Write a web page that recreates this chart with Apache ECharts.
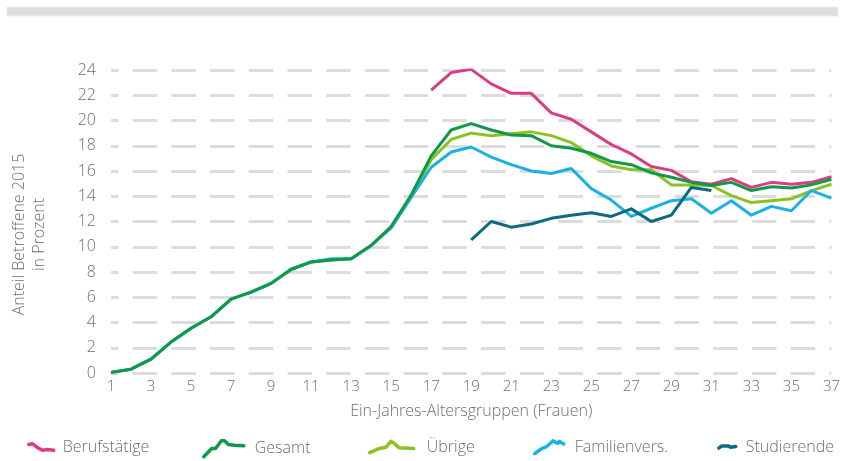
<!DOCTYPE html>
<html>
<head>
<meta charset="utf-8">
<script src="https://cdn.jsdelivr.net/npm/echarts@6/dist/echarts.min.js"></script>
<style>
  html, body { margin: 0; padding: 0; background: #fff; }
  #container { width: 843px; height: 461px; }
</style>
</head>
<body>
<div id="container"></div>
<script>
(function () {

    // age groups 1..37
    const ages = [];
    for (let i = 1; i <= 37; i++) ages.push(String(i));

    const berufstaetige = [null, null, null, null, null, null, null, null, null, null, null, null, null, null, null, null,
        22.4, 23.8, 24.05, 22.9, 22.15, 22.15, 20.6, 20.1, 19.1, 18.1, 17.35, 16.35, 16.05, 15.15, 14.95, 15.4, 14.7, 15.1, 14.95, 15.1, 15.55];
    const gesamt = [0.05, 0.3, 1.1, 2.45, 3.55, 4.45, 5.85, 6.4, 7.1, 8.2, 8.8, 8.95, 9.05, 10.1, 11.6, 14.1,
        17.2, 19.25, 19.75, 19.25, 18.85, 18.8, 18.0, 17.8, 17.4, 16.75, 16.5, 15.85, 15.5, 15.1, 14.85, 15.1, 14.45, 14.75, 14.65, 14.9, 15.35];
    const uebrige = [0.05, 0.3, 1.1, 2.45, 3.55, 4.45, 5.85, 6.4, 7.1, 8.2, 8.8, 8.95, 9.05, 10.1, 11.6, 14.0,
        16.9, 18.5, 19.0, 18.8, 18.95, 19.1, 18.8, 18.25, 17.2, 16.4, 16.1, 16.1, 14.9, 14.9, 14.85, 14.05, 13.5, 13.65, 13.8, 14.45, 14.95];
    const familienvers = [0.05, 0.3, 1.1, 2.45, 3.55, 4.45, 5.85, 6.4, 7.1, 8.25, 8.8, 9.05, 9.05, 10.1, 11.5, 13.9,
        16.3, 17.5, 17.9, 17.1, 16.5, 16.0, 15.8, 16.2, 14.6, 13.7, 12.4, 13.05, 13.65, 13.8, 12.65, 13.65, 12.5, 13.2, 12.85, 14.45, 13.85];
    const studierende = [null, null, null, null, null, null, null, null, null, null, null, null, null, null, null, null, null, null,
        10.55, 12.0, 11.55, 11.8, 12.25, 12.5, 12.7, 12.4, 13.0, 12.0, 12.5, 14.7, 14.45, null, null, null, null, null, null];

    const yTicks = { min: 0, max: 24, step: 2 };

    const colors = {
        'Berufstätige': '#da3d84',
        'Gesamt': '#10994a',
        'Übrige': '#8cc122',
        'Familienvers.': '#1bb2e2',
        'Studierende': '#0e6a80'
    };

    const font = '"Open Sans", "Noto Sans", sans-serif';
    const textGrey = '#6e6e6e';

    // little squiggles used as legend icons
    const icons = {
        'Berufstätige': { path: 'path://M0 2 L12 0 L27 12 L42 20 L57 18 L77 20', w: 25, h: 6, left: 27, top: 440 },
        'Gesamt': { path: 'path://M0 50 L25 24 L37 24 L55 0 L65 0 L77 12 L95 14 L125 16', w: 40, h: 16, left: 202, top: 441 },
        'Übrige': { path: 'path://M0 35 L30 22 L50 18 L65 0 L77 8 L90 20 L135 22', w: 44, h: 11, left: 368, top: 439 },
        'Familienvers.': { path: 'path://M0 40 L20 25 L37 18 L57 0 L70 8 L77 2 L90 10', w: 29, h: 13, left: 533, top: 441 },
        'Studierende': { path: 'path://M0 7 L10 0 L30 0 L38 4 L55 2', w: 17, h: 3, left: 717, top: 446 }
    };
    const textLeft = { 'Berufstätige': 61, 'Gesamt': 253, 'Übrige': 425, 'Familienvers.': 573, 'Studierende': 744 };

    const legends = Object.keys(icons).map(name => {
        const ic = icons[name];
        return {
            data: [name],
            left: ic.left,
            top: 439,
            icon: ic.path,
            itemWidth: ic.w,
            itemHeight: 18,
            padding: 0,
            itemStyle: { color: 'transparent', borderColor: colors[name], borderWidth: 3.5, borderCap: 'round', borderJoin: 'round' },
            textStyle: {
                color: textGrey, fontSize: 16, fontFamily: font, fontWeight: 300,
                padding: [0, 0, 0, textLeft[name] - ic.left - ic.w - 5]
            },
            selectedMode: false
        };
    });

    const makeSeries = (name, data, z) => ({
        name: name,
        type: 'line',
        data: data,
        showSymbol: false,
        symbol: 'none',
        connectNulls: false,
        z: z,
        lineStyle: { color: colors[name], width: 3, join: 'round' },
        itemStyle: { color: colors[name] },
        emphasis: { disabled: true }
    });

    const dom = document.getElementById('container');
    const myChart = echarts.init(dom, null, { renderer: 'canvas' });

    myChart.setOption({
        animation: false,
        backgroundColor: '#fff',
        graphic: [{
            type: 'rect',
            shape: { x: 7, y: 7, width: 831, height: 9 },
            style: { fill: '#dedede', stroke: '#ececec', lineWidth: 1 }
        }],
        grid: { left: 111, right: 5, top: 70, bottom: 88, containLabel: false },
        legend: legends,
        xAxis: {
            type: 'category',
            data: ages,
            boundaryGap: false,
            name: 'Ein-Jahres-Altersgruppen (Frauen)',
            nameLocation: 'middle',
            nameGap: 30,
            nameTextStyle: { color: textGrey, fontSize: 16, fontFamily: font, fontWeight: 300 },
            axisLine: { show: false },
            axisTick: { show: false },
            axisLabel: { interval: 1, color: textGrey, fontSize: 15, fontFamily: font, fontWeight: 300, margin: 6 },
            splitLine: { show: false }
        },
        yAxis: {
            type: 'value',
            min: yTicks.min,
            max: yTicks.max,
            interval: yTicks.step,
            name: 'Anteil Betroffene 2015\nin Prozent',
            nameLocation: 'middle',
            nameGap: 62,
            nameTextStyle: {
                color: textGrey, fontSize: 16, fontFamily: font, fontWeight: 300, lineHeight: 20,
                padding: [0, 26, 0, 0]
            },
            axisLine: { show: false },
            axisTick: { show: false },
            axisLabel: { color: textGrey, fontSize: 16, fontFamily: font, fontWeight: 300, margin: 15 },
            splitLine: {
                show: true,
                lineStyle: { color: '#dcdcdc', width: 3, type: [24.5, 14.2], dashOffset: 17 }
            }
        },
        series: [
            makeSeries('Übrige', uebrige, 2),
            makeSeries('Familienvers.', familienvers, 2),
            makeSeries('Studierende', studierende, 3),
            makeSeries('Berufstätige', berufstaetige, 3),
            makeSeries('Gesamt', gesamt, 4)
        ]
    });

})();
</script>
</body>
</html>
